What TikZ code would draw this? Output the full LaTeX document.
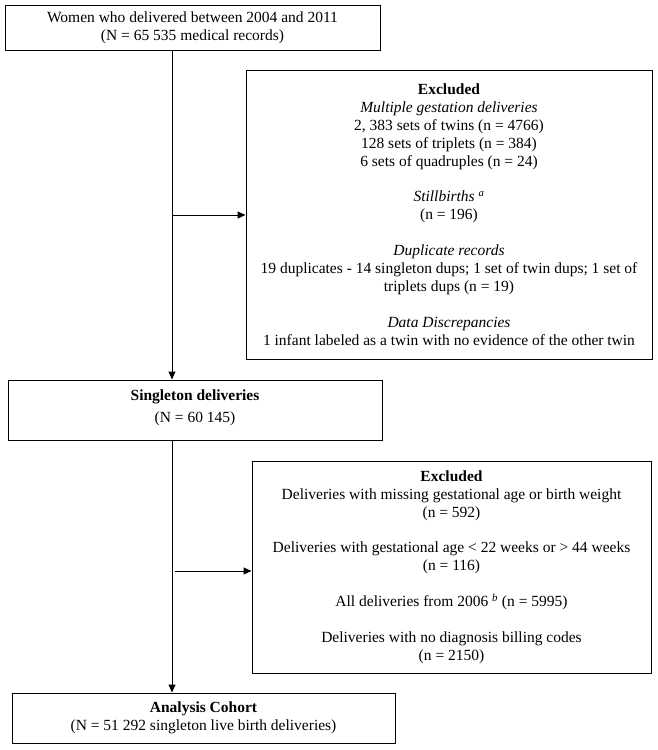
\documentclass[tikz,border=0pt]{standalone}
\usepackage{fontspec}
\setmainfont{Liberation Serif}
\usetikzlibrary{arrows.meta}
\begin{document}
\begin{tikzpicture}[x=1pt,y=1pt,
  box/.style={draw=black, line width=1pt, align=center, inner sep=0pt,
    font=\fontsize{15.5}{17.9}\selectfont},
  conn/.style={draw=black, line width=1pt},
  arr/.style={conn, -{Triangle[length=8pt,width=7pt]}}]
\useasboundingbox (0,0) rectangle (658,-750);
\node[box, minimum width=375, minimum height=45] (top) at (192.5,-27.5)
  {Women who delivered between 2004 and 2011\\(N = 65 535 medical records)};
\node[box, minimum width=406, minimum height=289] (exa) at (449,-214.5)
  {\textbf{Excluded}\\
   \textit{Multiple gestation deliveries}\\
   2, 383 sets of twins (n = 4766)\\
   128 sets of triplets (n = 384)\\
   6 sets of quadruples (n = 24)\\[17.9pt]
   \textit{Stillbirths} \textsuperscript{\textit{a}}\\
   (n = 196)\\[17.9pt]
   \textit{Duplicate records}\\
   19 duplicates - 14 singleton dups; 1 set of twin dups; 1 set of\\
   triplets dups (n = 19)\\[17.9pt]
   \textit{Data Discrepancies}\\
   1 infant labeled as a twin with no evidence of the other twin};
\node[box, minimum width=374, minimum height=60] (sing) at (195,-410)
  {\textbf{Singleton deliveries}\\[4pt](N = 60 145)\\[-10pt]};
\node[box, minimum width=399, minimum height=212] (exb) at (451.5,-567)
  {\textbf{Excluded}\\
   Deliveries with missing gestational age or birth weight\\
   (n = 592)\\[17.9pt]
   Deliveries with gestational age < 22 weeks or > 44 weeks\\
   (n = 116)\\[17.9pt]
   All deliveries from 2006 \textsuperscript{\textit{b}} (n = 5995)\\[17.9pt]
   Deliveries with no diagnosis billing codes\\
   (n = 2150)};
\node[box, minimum width=383, minimum height=50] (ana) at (203.5,-718)
  {\textbf{Analysis Cohort}\\(N = 51 292 singleton live birth deliveries)};
\coordinate (ja) at (172,-215);
\coordinate (jb) at (175,-571);
\draw[arr] (top.south -| ja) -- (sing.north -| ja);
\draw[arr] (ja) -- (exa.west |- ja);
\draw[arr] (sing.south -| ja) -- (ana.north -| ja);
\draw[arr] (jb) -- (exb.west |- jb);
\end{tikzpicture}
\end{document}
